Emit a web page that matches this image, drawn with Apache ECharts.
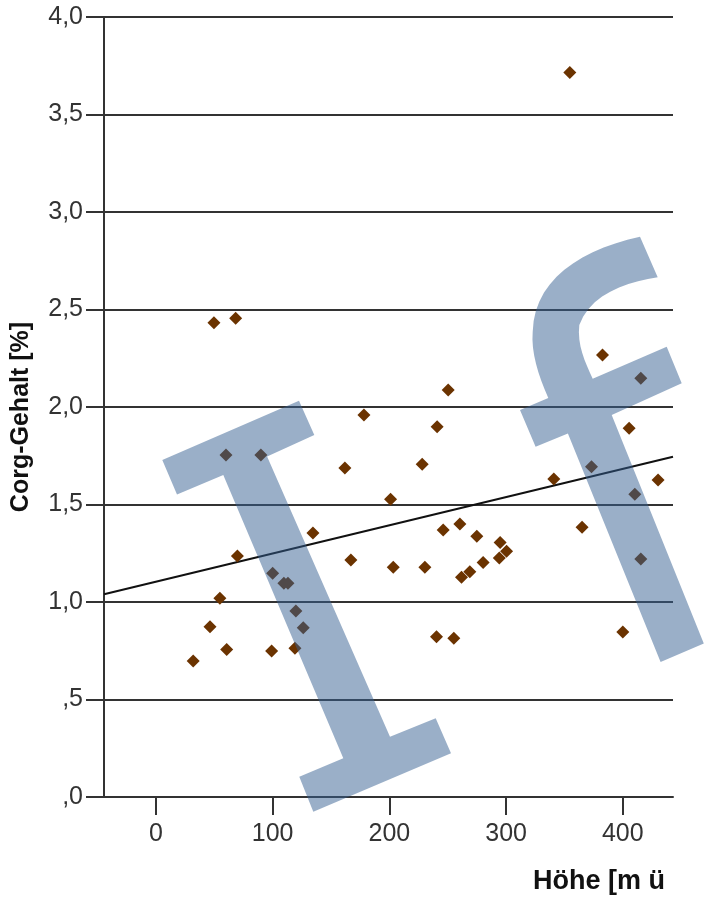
<!DOCTYPE html>
<html>
<head>
<meta charset="utf-8">
<script src="https://cdn.jsdelivr.net/npm/echarts@6/dist/echarts.min.js"></script>
<style>
  html, body { margin: 0; padding: 0; background: #fff; }
  #chart { width: 704px; height: 898px; }
</style>
</head>
<body>
<div id="chart"></div>
<script>
// Höhe [m ü. NN] vs. Corg-Gehalt [%]
const hoehe = [
  31.9, 46.3, 49.7, 68.3, 54.8, 60.6, 60.0, 69.8, 89.9, 100.0,
  99.1, 109.6, 113.1, 119.9, 126.2, 119.1, 134.5, 161.9, 167.0, 178.2,
  201.0, 203.3, 228.1, 230.4, 240.9, 240.4, 250.4, 246.1, 255.2, 260.4,
  261.8, 268.9, 274.9, 280.3, 294.9, 294.2, 300.4, 340.9, 354.6, 365.1,
  373.2, 382.6, 400.0, 405.4, 410.3, 415.4, 415.4, 430.2
];
const corg = [
  0.697, 0.873, 2.432, 2.455, 1.019, 0.757, 1.754, 1.236, 1.754, 1.147,
  0.749, 1.096, 1.096, 0.954, 0.868, 0.763, 1.354, 1.687, 1.215, 1.959,
  1.527, 1.178, 1.706, 1.178, 1.899, 0.822, 2.087, 1.369, 0.814, 1.400,
  1.127, 1.155, 1.337, 1.202, 1.305, 1.226, 1.260, 1.631, 3.716, 1.383,
  1.694, 2.267, 0.846, 1.891, 1.552, 2.147, 1.221, 1.626
];
const fitX = [-44.5, 443];
const fitY = [1.04, 1.745];

const xTicks = [0, 100, 200, 300, 400];
const yTickLabels = [',0', ',5', '1,0', '1,5', '2,0', '2,5', '3,0', '3,5', '4,0'];

const chart = echarts.init(document.getElementById('chart'));
const axisColor = '#333';
const font = 'Liberation Sans, Arial, sans-serif';
const markColor = 'rgba(53,95,145,0.5)';

// kubische Bezierkurve als Punktliste (ohne Startpunkt)
function bez(p0, p1, p2, p3, n) {
  let pts = [];
  for (let i = 1; i <= n; i++) {
    let t = i / n, s = 1 - t;
    pts.push([
      s * s * s * p0[0] + 3 * s * s * t * p1[0] + 3 * s * t * t * p2[0] + t * t * t * p3[0],
      s * s * s * p0[1] + 3 * s * s * t * p1[1] + 3 * s * t * t * p2[1] + t * t * t * p3[1]
    ]);
  }
  return pts;
}

const fPoints = [
  [520, 410], [548.3, 397.9],
  ...bez([548.3, 397.9], [538, 375], [531, 352], [532.7, 331.7], 8),
  ...bez([532.7, 331.7], [534, 280], [580, 250], [640, 236.7], 14),
  [657.7, 277.3],
  ...bez([657.7, 277.3], [625, 282], [590, 295], [579.3, 325], 10),
  ...bez([579.3, 325], [577, 345], [585, 362], [592.7, 378.8], 8),
  [666.7, 346.7], [681.7, 383.3], [611.7, 415], [703.8, 643.4], [660.6, 662],
  [567.9, 433.6], [535.6, 446.8]
];

let option = {
  animation: false,
  grid: { left: 104, right: 31, top: 17, bottom: 101, outerBoundsMode: 'none' },
  xAxis: {
    type: 'value',
    min: -44.5,
    max: 443,
    name: 'Höhe [m ü',
    nameLocation: 'end',
    nameGap: -8,
    nameTextStyle: {
      fontFamily: font, fontSize: 27, fontWeight: 'bold', color: '#111',
      align: 'right', verticalAlign: 'top', padding: [71, 0, 0, 0]
    },
    axisLine: { show: true, onZero: false, lineStyle: { color: axisColor, width: 2 } },
    axisTick: { show: true, length: 18, customValues: xTicks, lineStyle: { color: axisColor, width: 2 } },
    axisLabel: { customValues: xTicks, margin: 25, fontFamily: font, fontSize: 25, color: '#333' },
    splitLine: { show: false }
  },
  yAxis: {
    type: 'value',
    min: 0,
    max: 4,
    interval: 0.5,
    name: 'Corg-Gehalt [%]',
    nameLocation: 'middle',
    nameGap: 70,
    nameTextStyle: {
      fontFamily: font, fontSize: 25, fontWeight: 'bold', color: '#111',
      padding: [0, 20, 0, 0]
    },
    axisLine: { show: true, onZero: false, lineStyle: { color: axisColor, width: 2 } },
    axisTick: { show: true, length: 18, lineStyle: { color: axisColor, width: 2 } },
    axisLabel: {
      margin: 21, fontFamily: font, fontSize: 25, color: '#333',
      formatter: (v) => yTickLabels[Math.round(v / 0.5)]
    },
    splitLine: { show: true, lineStyle: { color: '#333', width: 2 } }
  },
  series: [
    {
      type: 'line',
      data: fitX.map((x, i) => [x, fitY[i]]),
      symbol: 'none',
      lineStyle: { color: '#111', width: 2 },
      z: 2
    },
    {
      type: 'scatter',
      data: hoehe.map((x, i) => [x, corg[i]]),
      symbol: 'diamond',
      symbolSize: 13,
      itemStyle: { color: '#6b3300', opacity: 1 },
      z: 3
    }
  ],
  // Wasserzeichen "If"
  graphic: [
    {
      type: 'polygon',
      z: 100,
      silent: true,
      shape: {
        points: [
          [162.3, 460], [299, 400.7], [314.3, 435], [267.1, 456.4],
          [390, 736.7], [435.7, 718.3], [451, 753.3], [313.3, 811.7],
          [299.3, 776.7], [343.3, 758.3], [223.3, 475], [177, 494.6]
        ]
      },
      style: { fill: markColor }
    },
    {
      type: 'polygon',
      z: 100,
      silent: true,
      shape: { points: fPoints },
      style: { fill: markColor }
    }
  ]
};

chart.setOption(option);
</script>
</body>
</html>
